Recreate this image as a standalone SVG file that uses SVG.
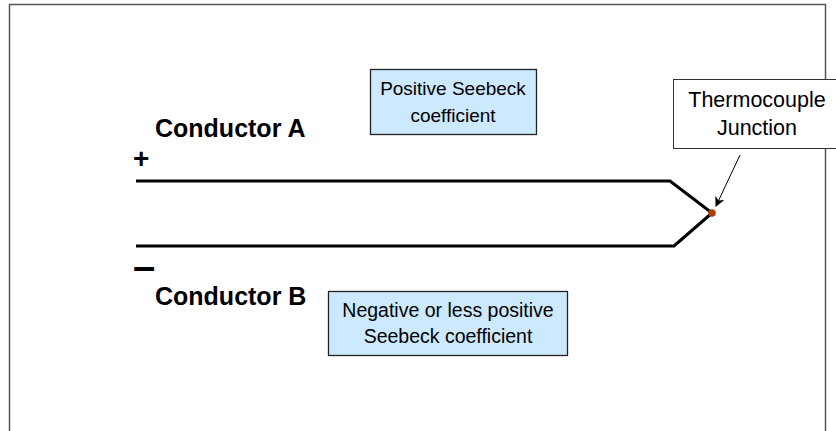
<svg xmlns="http://www.w3.org/2000/svg" width="836" height="431" viewBox="0 0 836 431">
<style>
.t{font-family:"Liberation Sans",Arial,sans-serif;fill:#000;text-anchor:middle}
.b{font-family:"Liberation Sans",Arial,sans-serif;font-weight:bold;fill:#000}
.box{fill:#cce9ff;stroke:#222;stroke-width:1.3}
.wire{fill:none;stroke:#000;stroke-width:3}
</style>
<defs>
<marker id="ah" viewBox="0 0 10 10" refX="9" refY="5" markerWidth="10" markerHeight="10" markerUnits="userSpaceOnUse" orient="auto">
<path d="M0,0 L10,5 L0,10 L3,5 z" fill="#000"/>
</marker>
</defs>
<rect width="836" height="431" fill="#fff"/>
<path d="M9.5,431 V4.5 H825.5 V431" fill="none" stroke="#555" stroke-width="1.5"/>
<g id="connectors">
<path class="wire" d="M136,181 H670 L712,213"/>
<path class="wire" d="M136,246 H674 L712,213"/>
<line x1="740" y1="155" x2="716" y2="206" stroke="#000" stroke-width="1" marker-end="url(#ah)"/>
</g>
<g id="junction"><circle cx="712" cy="213" r="3.8" fill="#b23c00"/></g>
<g id="conductorA"><text class="b" x="155" y="137" font-size="25">Conductor A</text>
<text class="b" x="133" y="168" font-size="28">+</text></g>
<g id="conductorB"><text class="b" x="155" y="305" font-size="25">Conductor B</text>
<text class="b" x="133" y="280" font-size="40">–</text></g>
<g id="positive"><rect class="box" x="370.5" y="69.5" width="166" height="65"/>
<text class="t" x="453" y="95" font-size="19">Positive Seebeck</text>
<text class="t" x="453" y="122" font-size="19">coefficient</text></g>
<g id="negative"><rect class="box" x="328.5" y="291.5" width="239" height="64"/>
<text class="t" x="448" y="317" font-size="19.5">Negative or less positive</text>
<text class="t" x="448" y="343" font-size="19.5">Seebeck coefficient</text></g>
<g id="thermocouple"><rect x="673.5" y="79.5" width="170" height="69" fill="#fff" stroke="#333" stroke-width="1"/>
<text class="t" x="757" y="107" font-size="21.5">Thermocouple</text>
<text class="t" x="757" y="135" font-size="21.5">Junction</text></g>
</svg>
